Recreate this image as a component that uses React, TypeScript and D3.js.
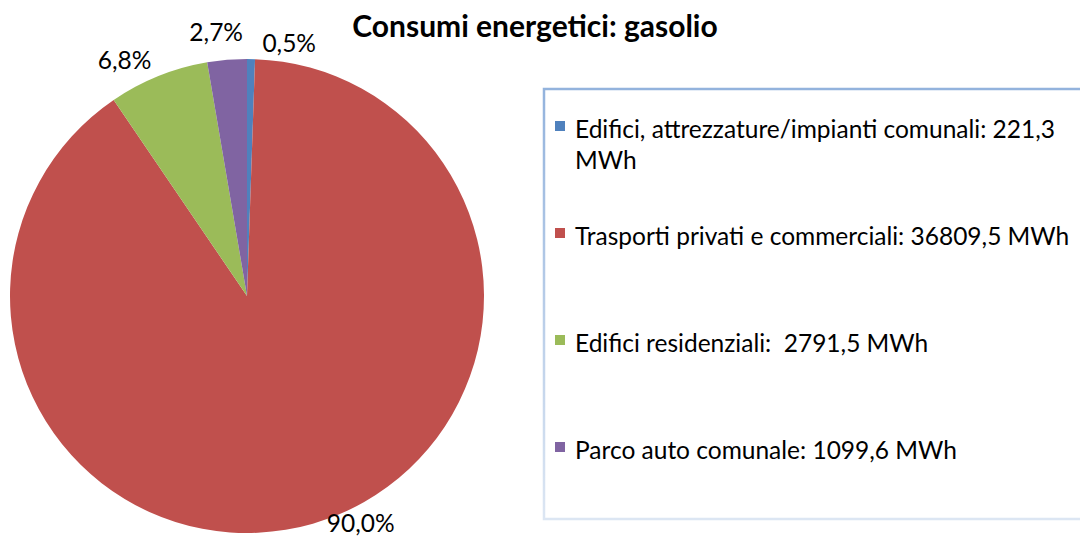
import React, { useEffect, useRef } from "react";
import * as d3 from "d3";

const title = "Consumi energetici: gasolio";
const categories = [
  "Edifici, attrezzature/impianti comunali:",
  "Trasporti privati e commerciali:",
  "Edifici residenziali: ",
  "Parco auto comunale:"
];
const values = [221.3, 36809.5, 2791.5, 1099.6];
const valueLabels = ["221,3", "36809,5", "2791,5", "1099,6"];
const unit = "MWh";
const colors = ["#4f81bd", "#c0504d", "#9bbb59", "#8064a2"];

// label offsets from the arc centroid (Excel moves them around a bit)
const labelNudge = [
  [38, -7],
  [45, -11],
  [-30, -7],
  [-10, -18]
];

const width = 1080;
const height = 538;
const cx = 247;
const cy = 296;
const radius = 237;
const font = "Lato, 'Open Sans', sans-serif";

const itLocale = d3.formatLocale({
  decimal: ",",
  thousands: ".",
  grouping: [3],
  currency: ["", " €"]
});
const pct = itLocale.format(".1%");

const App = () => {
  const chart = useRef<SVGSVGElement>(null);

  useEffect(() => {
    const svg = d3.select(chart.current);
    svg.selectAll("*").remove();

    const data = values.map((v, i) => ({ i, value: v }));
    const total = d3.sum(values);
    const pie = d3.pie<any>().sort(null).value(d => d.value);
    const arcs = pie(data);
    const arc = d3.arc<any>().innerRadius(0).outerRadius(radius);
    const labelArc = d3.arc<any>().innerRadius(radius + 10).outerRadius(radius + 10);

    // title
    svg
      .append("text")
      .attr("x", 535)
      .attr("y", 25)
      .attr("text-anchor", "middle")
      .attr("dominant-baseline", "central")
      .attr("font-family", font)
      .attr("font-weight", 700)
      .attr("font-size", 30)
      .attr("fill", "#000")
      .text(title);

    const g = svg.append("g").attr("transform", `translate(${cx},${cy})`);

    g.selectAll("path")
      .data(arcs)
      .join("path")
      .attr("d", arc)
      .attr("fill", d => colors[d.data.i]);

    g.selectAll("text")
      .data(arcs)
      .join("text")
      .attr("transform", d => {
        const c = labelArc.centroid(d);
        const n = labelNudge[d.data.i];
        return `translate(${c[0] + n[0]},${c[1] + n[1]})`;
      })
      .attr("text-anchor", "middle")
      .attr("dominant-baseline", "central")
      .attr("font-family", font)
      .attr("font-size", 24.5)
      .attr("fill", "#000")
      .text(d => pct(d.data.value / total));

    // legend
    const legend = svg.append("g");
    const grad = svg
      .append("defs")
      .append("linearGradient")
      .attr("id", "legendBorder")
      .attr("x1", 0)
      .attr("y1", 0)
      .attr("x2", 0)
      .attr("y2", 1);
    grad.append("stop").attr("offset", "0%").attr("stop-color", "#93b3dd");
    grad.append("stop").attr("offset", "100%").attr("stop-color", "#dce6f3");

    legend
      .append("rect")
      .attr("x", 544)
      .attr("y", 89)
      .attr("width", 560)
      .attr("height", 430)
      .attr("fill", "#fff")
      .attr("stroke", "url(#legendBorder)")
      .attr("stroke-width", 2.5);

    const ly = d3
      .scalePoint<number>()
      .domain(d3.range(categories.length))
      .range([128, 449]);

    const item = legend
      .selectAll("g.item")
      .data(categories)
      .join("g")
      .attr("class", "item")
      .attr("transform", (d, i) => `translate(555,${ly(i)})`);

    item
      .append("rect")
      .attr("x", 0)
      .attr("y", -7)
      .attr("width", 10)
      .attr("height", 10)
      .attr("fill", (d, i) => colors[i]);

    const maxWidth = 505;
    item.each(function (d, i) {
      const words = `${d} ${valueLabels[i]} ${unit}`.split(/(?<= )/);
      const t = d3
        .select(this)
        .append("text")
        .attr("x", 20)
        .attr("y", 0)
        .attr("dominant-baseline", "central")
        .attr("font-family", font)
        .attr("font-size", 24.5)
        .attr("fill", "#000")
        .style("white-space", "pre");
      let line: string[] = [];
      let tspan = t.append("tspan").attr("x", 20).attr("dy", 0);
      for (const w of words) {
        line.push(w);
        tspan.text(line.join(""));
        if ((tspan.node() as SVGTSpanElement).getComputedTextLength() > maxWidth && line.length > 1) {
          line.pop();
          tspan.text(line.join(""));
          line = [w];
          tspan = t.append("tspan").attr("x", 20).attr("dy", 31).text(w);
        }
      }
    });
  }, []);

  return (
    <svg
      ref={chart}
      width={width}
      height={height}
      viewBox={`0 0 ${width} ${height}`}
      style={{ position: "absolute", left: 0, top: 0, background: "#fff" }}
    ></svg>
  );
};

export default App;
